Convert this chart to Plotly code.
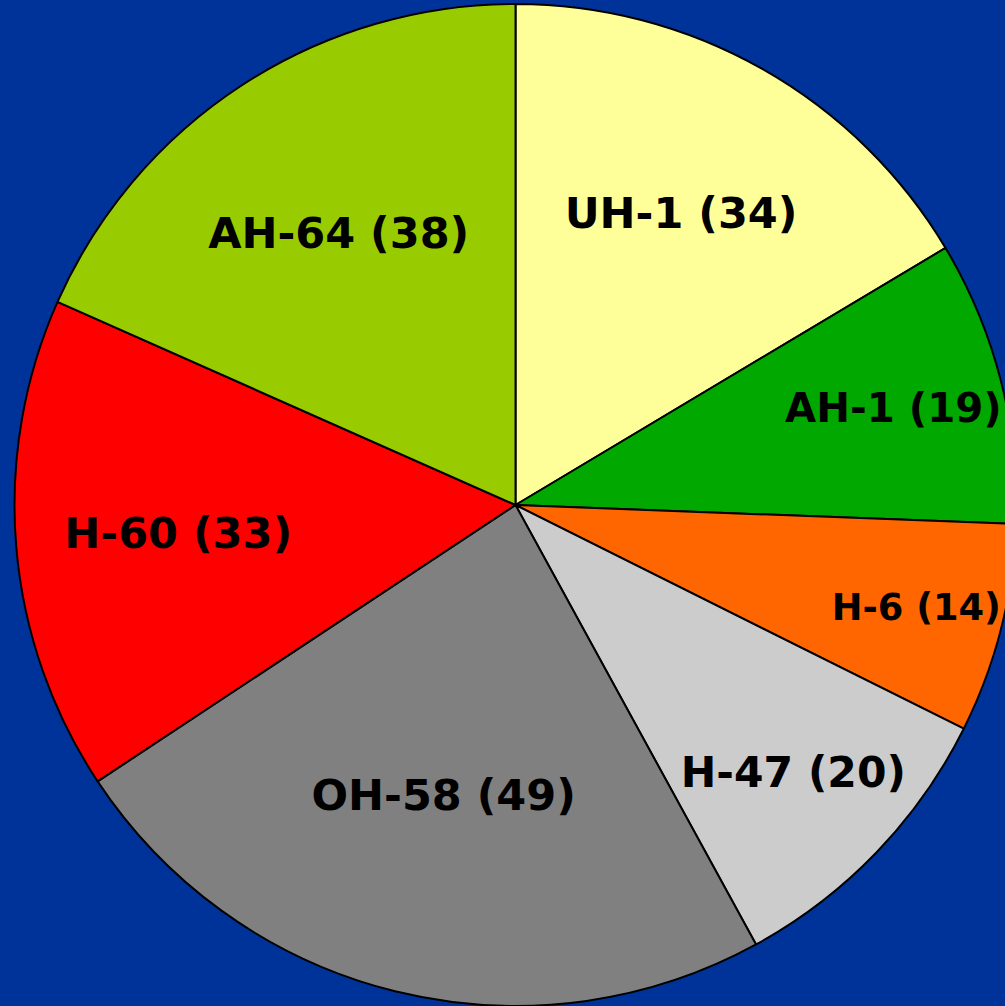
import plotly.graph_objects as go

# Helicopter types and counts, clockwise from 12 o'clock
types = ["UH-1", "AH-1", "H-6", "H-47", "OH-58", "H-60", "AH-64"]
counts = [34, 19, 14, 20, 49, 33, 38]
colors = ["#FFFF99", "#00A800", "#FF6600", "#CCCCCC", "#808080", "#FF0000", "#99CC00"]

labels = [t + " (" + str(c) + ")" for t, c in zip(types, counts)]

W, H = 1030, 1010

fig = go.Figure(data=go.Pie(
    labels=types,
    values=counts,
    text=labels,
    textinfo="text",
    textposition="inside",
    insidetextorientation="horizontal",
    textfont=dict(family="DejaVu Sans, Arial, sans-serif", size=43, color="black", weight="bold"),
    marker=dict(colors=colors, line=dict(color="black", width=2)),
    sort=False,
    direction="clockwise",
    rotation=0,
    hoverinfo="label+value",
    domain=dict(x=[14.5 / W, 1016.5 / W], y=[4 / H, 1006 / H]),
))

fig.update_layout(
    width=W, height=H,
    margin=dict(l=0, r=0, t=0, b=0),
    paper_bgcolor="#003399",
    plot_bgcolor="#003399",
    showlegend=False,
    font=dict(family="DejaVu Sans, Arial, sans-serif"),
)

fig.write_html("out.html", config={"displayModeBar": False}, post_script=(
    "document.body.style.margin='0';"
    "document.body.style.overflow='hidden';"
    "document.body.style.background='#003399';"
))
